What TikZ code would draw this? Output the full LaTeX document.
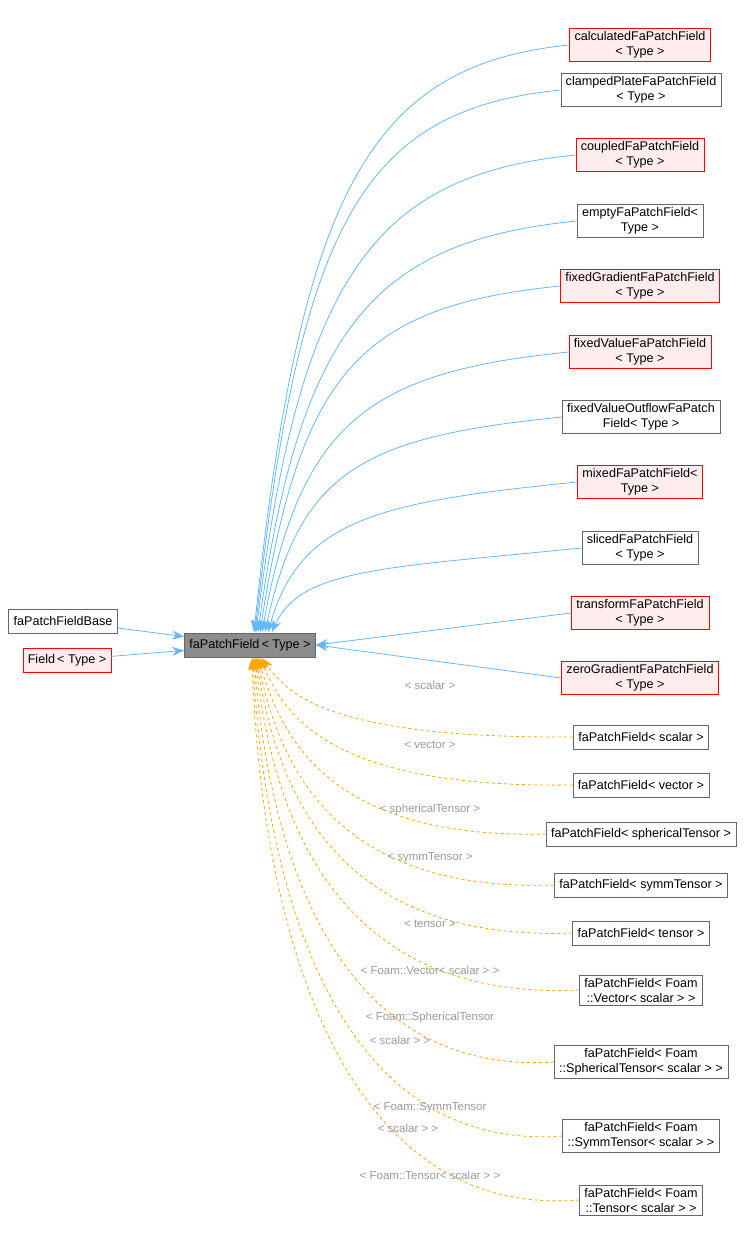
\documentclass[tikz,border=0pt]{standalone}
\usepackage{fontspec}
\setmainfont{Liberation Sans}
\usetikzlibrary{arrows.meta}
\definecolor{blu}{HTML}{63B8FF}
\definecolor{ora}{HTML}{FFA500}
\definecolor{lbl}{HTML}{9A9A9A}
\begin{document}
\begin{tikzpicture}[x=1pt,y=-1pt,
 box/.style={draw=black!60,fill=white,align=center,inner xsep=5pt,inner ysep=3pt,font=\fontsize{12.6}{15}\selectfont,minimum height=24pt},
 red/.style={box,draw=red,fill=red!7},
 inh/.style={draw=blu,-{Stealth[length=12pt,width=9pt]},line width=0.8pt},
 tpl/.style={draw=ora,dashed,-{Stealth[length=12pt,width=9pt]},line width=0.8pt},
 lab/.style={text=lbl,font=\fontsize{11.5}{13}\selectfont}]
\useasboundingbox (0,0) rectangle (751,1235);
\node[box,fill=black!45] (p) at (250,645) {faPatchField\,< Type >};
\node[box] (base) at (63,621) {faPatchFieldBase};
\node[red] (fld) at (67,660) {Field\,< Type >};
\node[red] (c1) at (640,45) {calculatedFaPatchField\\< Type >};
\node[box] (c2) at (641,90) {clampedPlateFaPatchField\\< Type >};
\node[red] (c3) at (640,155) {coupledFaPatchField\\< Type >};
\node[box] (c4) at (640,221) {emptyFaPatchField<\\Type >};
\node[red] (c5) at (640,286) {fixedGradientFaPatchField\\< Type >};
\node[red] (c6) at (640,352) {fixedValueFaPatchField\\< Type >};
\node[box] (c7) at (641,417) {fixedValueOutflowFaPatch\\Field< Type >};
\node[red] (c8) at (640,482) {mixedFaPatchField<\\Type >};
\node[box] (c9) at (640,548) {slicedFaPatchField\\< Type >};
\node[red] (c10) at (640,613) {transformFaPatchField\\< Type >};
\node[red] (c11) at (640,678) {zeroGradientFaPatchField\\< Type >};
\node[box] (t1) at (641,737) {faPatchField< scalar >};
\node[box] (t2) at (641,785) {faPatchField< vector >};
\node[box] (t3) at (641,834) {faPatchField< sphericalTensor >};
\node[box] (t4) at (641,885) {faPatchField< symmTensor >};
\node[box] (t5) at (641,933) {faPatchField< tensor >};
\node[box] (t6) at (641,990) {faPatchField< Foam\\::Vector< scalar > >};
\node[box] (t7) at (641,1062) {faPatchField< Foam\\::SphericalTensor< scalar > >};
\node[box] (t8) at (641,1136) {faPatchField< Foam\\::SymmTensor< scalar > >};
\node[box] (t9) at (641,1200) {faPatchField< Foam\\::Tensor< scalar > >};
\draw[inh] (base) -- (p);
\draw[inh] (fld) -- (p);
\foreach \n/\y/\ex in {c1/45/254,c2/90/255,c3/155/256,c4/221/258,c5/286/260,c6/352/262,c7/417/265,c8/482/268,c9/548/272} {
 \draw[inh] (\n.west) .. controls +(-200,20) and (300,{\y+(632-\y)*0.25}) .. (\ex,632);
}
\draw[inh] (c10.west) -- (p.east);
\draw[inh] (c11.west) -- (p.east);
\foreach \n/\y/\ex in {t1/737/262,t2/785/260,t3/834/258,t4/885/257,t5/933/256,t6/990/255,t7/1062/254,t8/1136/253,t9/1200/252} {
 \draw[tpl] (\n.west) .. controls (330,{\y+(\y-700)*0.04}) and ({290-(\y-700)*0.06},{660+(\y-660)*0.45}) .. (\ex,658);
}
\node[lab] at (430,685) {< scalar >};
\node[lab] at (430,745) {< vector >};
\node[lab] at (430,810) {< sphericalTensor >};
\node[lab] at (430,858) {< symmTensor >};
\node[lab] at (430,924) {< tensor >};
\node[lab] at (430,970) {< Foam::Vector< scalar > >};
\node[lab] at (430,1018) {< Foam::SphericalTensor};
\node[lab] at (400,1040) {< scalar > >};
\node[lab] at (430,1108) {< Foam::SymmTensor};
\node[lab] at (408,1128) {< scalar > >};
\node[lab] at (430,1175) {< Foam::Tensor< scalar > >};
\end{tikzpicture}
\end{document}
